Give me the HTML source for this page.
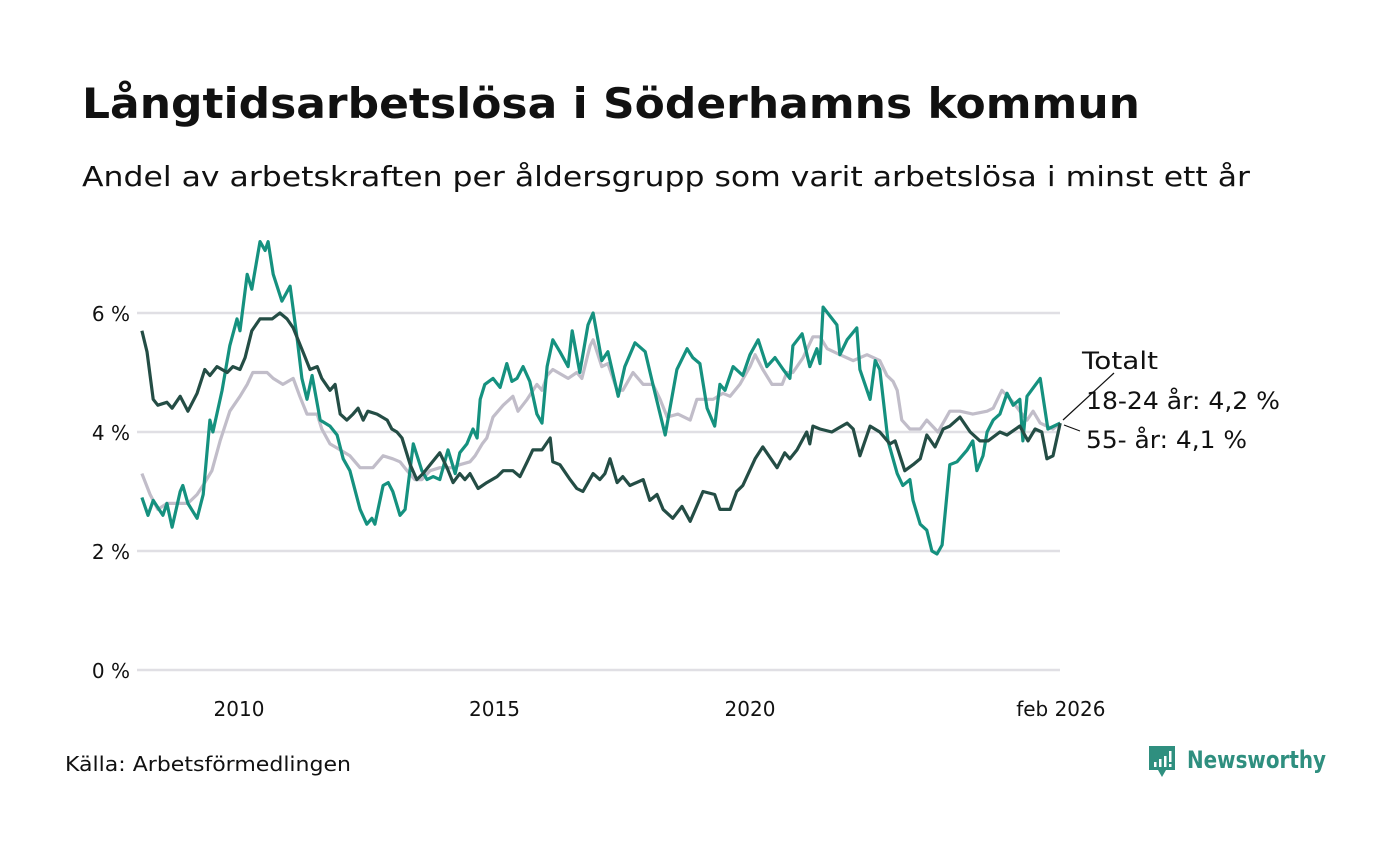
<!DOCTYPE html>
<html><head><meta charset="utf-8">
<style>
body{margin:0;background:#fff;width:1400px;height:840px;overflow:hidden;font-family:"DejaVu Sans","Liberation Sans",sans-serif;}
</style></head>
<body>
<svg id="chart" width="1400" height="840" viewBox="0 0 1400 840" xmlns="http://www.w3.org/2000/svg" font-family="DejaVu Sans, Liberation Sans, sans-serif">
<text x="82" y="118" font-size="42" font-weight="bold" fill="#111" textLength="1058" lengthAdjust="spacingAndGlyphs">Långtidsarbetslösa i Söderhamns kommun</text>
<text x="82" y="186" font-size="28" fill="#111" textLength="1168" lengthAdjust="spacingAndGlyphs">Andel av arbetskraften per åldersgrupp som varit arbetslösa i minst ett år</text>
<g id="grid"></g>
<g id="series"></g>
<g font-size="24" fill="#111">
<line x1="1063" y1="420" x2="1114" y2="373" stroke="#111" stroke-width="1.2"/>
<line x1="1064" y1="425" x2="1080" y2="431" stroke="#111" stroke-width="1.2"/>
<text x="1082" y="369" textLength="76" lengthAdjust="spacingAndGlyphs">Totalt</text>
<text x="1086" y="409" textLength="194" lengthAdjust="spacingAndGlyphs">18-24 år: 4,2 %</text>
<text x="1086" y="448" textLength="161" lengthAdjust="spacingAndGlyphs">55- år: 4,1 %</text>
</g>
<text x="65" y="771" font-size="20" fill="#111" textLength="286" lengthAdjust="spacingAndGlyphs">Källa: Arbetsförmedlingen</text>
<g>
<path d="M1149 746 h26 v24 h-9 l-4 7 l-4 -7 h-9 z" fill="#2f8f7f"/>
<rect x="1154" y="762" width="2.5" height="5" fill="#fff"/>
<rect x="1159" y="759" width="2.5" height="8" fill="#fff"/>
<rect x="1164" y="756" width="2.5" height="11" fill="#fff"/>
<rect x="1169" y="751" width="2.5" height="11" fill="#fff"/>
<rect x="1169" y="764" width="2.5" height="3" fill="#fff"/>
<text x="1187" y="768" font-size="24" font-weight="bold" fill="#2f8f7f" textLength="139" lengthAdjust="spacingAndGlyphs">Newsworthy</text>
</g>
</svg>
<script>
const yTicks=[0,2,4,6];
const yTickLabels=["0 %","2 %","4 %","6 %"];
const xTicks=[2010,2015,2020,2026.083];
const xTickLabels=["2010","2015","2020","feb 2026"];

const datesYouth=[2008.10,2008.22,2008.32,2008.51,2008.59,2008.69,2008.85,2008.90,2009.00,2009.18,2009.30,2009.43,2009.49,2009.67,2009.82,2009.96,2010.02,2010.16,2010.25,2010.41,2010.51,2010.57,2010.67,2010.84,2011.00,2011.14,2011.23,2011.33,2011.43,2011.59,2011.78,2011.92,2012.04,2012.17,2012.37,2012.50,2012.60,2012.66,2012.82,2012.92,2013.01,2013.15,2013.25,2013.41,2013.58,2013.68,2013.80,2013.93,2014.09,2014.23,2014.32,2014.46,2014.58,2014.66,2014.72,2014.81,2014.97,2015.11,2015.24,2015.34,2015.44,2015.56,2015.69,2015.83,2015.93,2016.03,2016.14,2016.28,2016.44,2016.52,2016.67,2016.83,2016.93,2017.10,2017.22,2017.42,2017.55,2017.75,2017.95,2018.10,2018.34,2018.57,2018.77,2018.88,2019.02,2019.16,2019.31,2019.41,2019.51,2019.67,2019.86,2020.00,2020.16,2020.33,2020.49,2020.65,2020.78,2020.84,2021.02,2021.17,2021.31,2021.37,2021.43,2021.70,2021.76,2021.90,2022.09,2022.15,2022.35,2022.45,2022.54,2022.70,2022.88,2022.99,2023.13,2023.19,2023.33,2023.46,2023.56,2023.66,2023.76,2023.91,2024.05,2024.25,2024.36,2024.44,2024.56,2024.64,2024.76,2024.89,2025.03,2025.15,2025.28,2025.34,2025.42,2025.68,2025.83,2026.07];
const valuesYouth=[2.9,2.6,2.85,2.6,2.8,2.4,3.0,3.1,2.8,2.55,2.95,4.2,4.0,4.7,5.45,5.9,5.7,6.65,6.4,7.2,7.05,7.2,6.65,6.2,6.45,5.55,4.9,4.55,4.95,4.2,4.1,3.95,3.55,3.35,2.7,2.45,2.55,2.45,3.1,3.15,3.0,2.6,2.7,3.8,3.35,3.2,3.25,3.2,3.7,3.3,3.65,3.8,4.05,3.9,4.55,4.8,4.9,4.75,5.15,4.85,4.9,5.1,4.85,4.3,4.15,5.1,5.55,5.35,5.1,5.7,5.0,5.8,6.0,5.2,5.35,4.6,5.1,5.5,5.35,4.8,3.95,5.05,5.4,5.25,5.15,4.4,4.1,4.8,4.7,5.1,4.95,5.3,5.55,5.1,5.25,5.05,4.9,5.45,5.65,5.1,5.4,5.15,6.1,5.8,5.3,5.55,5.75,5.05,4.55,5.2,5.05,3.85,3.3,3.1,3.2,2.85,2.45,2.35,2.0,1.95,2.1,3.45,3.5,3.7,3.85,3.35,3.6,4.0,4.2,4.3,4.65,4.45,4.55,3.85,4.6,4.9,4.05,4.15];

const datesTotal=[2008.10,2008.26,2008.41,2008.59,2008.79,2009.00,2009.18,2009.33,2009.47,2009.63,2009.82,2010.02,2010.16,2010.27,2010.55,2010.67,2010.86,2011.06,2011.19,2011.33,2011.53,2011.62,2011.78,2011.98,2012.17,2012.37,2012.62,2012.82,2013.01,2013.15,2013.29,2013.44,2013.58,2013.74,2013.93,2014.19,2014.32,2014.52,2014.62,2014.76,2014.85,2014.97,2015.17,2015.36,2015.46,2015.64,2015.83,2015.93,2016.03,2016.14,2016.44,2016.61,2016.71,2016.87,2016.93,2017.10,2017.22,2017.40,2017.51,2017.71,2017.91,2018.10,2018.24,2018.38,2018.59,2018.83,2018.96,2019.28,2019.47,2019.61,2019.80,2020.00,2020.10,2020.25,2020.43,2020.63,2020.72,2020.84,2021.04,2021.23,2021.37,2021.51,2021.76,2022.02,2022.29,2022.54,2022.68,2022.80,2022.88,2022.97,2023.13,2023.33,2023.46,2023.68,2023.91,2024.11,2024.36,2024.64,2024.76,2024.93,2025.15,2025.28,2025.42,2025.54,2025.68,2025.93,2026.07];
const valuesTotal=[3.3,2.95,2.7,2.8,2.8,2.8,2.95,3.15,3.35,3.85,4.35,4.6,4.8,5.0,5.0,4.9,4.8,4.9,4.6,4.3,4.3,4.05,3.8,3.7,3.6,3.4,3.4,3.6,3.55,3.5,3.35,3.2,3.2,3.35,3.4,3.4,3.45,3.5,3.6,3.8,3.9,4.25,4.45,4.6,4.35,4.55,4.8,4.7,4.95,5.05,4.9,5.0,4.9,5.45,5.55,5.1,5.15,4.7,4.7,5.0,4.8,4.8,4.55,4.25,4.3,4.2,4.55,4.55,4.65,4.6,4.8,5.1,5.3,5.05,4.8,4.8,5.0,5.0,5.25,5.6,5.6,5.4,5.3,5.2,5.3,5.2,4.95,4.85,4.7,4.2,4.05,4.05,4.2,4.0,4.35,4.35,4.3,4.35,4.4,4.7,4.5,4.35,4.2,4.35,4.15,4.05,4.15];

const datesOld=[2008.10,2008.20,2008.32,2008.41,2008.59,2008.69,2008.85,2009.00,2009.18,2009.33,2009.43,2009.57,2009.77,2009.88,2010.02,2010.12,2010.25,2010.41,2010.65,2010.80,2010.94,2011.06,2011.25,2011.39,2011.53,2011.62,2011.78,2011.88,2011.98,2012.11,2012.23,2012.33,2012.43,2012.52,2012.70,2012.90,2012.99,2013.09,2013.19,2013.35,2013.48,2013.60,2013.74,2013.93,2014.07,2014.19,2014.32,2014.42,2014.52,2014.68,2014.85,2015.05,2015.17,2015.36,2015.50,2015.64,2015.75,2015.93,2016.09,2016.14,2016.28,2016.48,2016.61,2016.73,2016.93,2017.06,2017.16,2017.26,2017.40,2017.51,2017.65,2017.91,2018.04,2018.18,2018.30,2018.49,2018.67,2018.83,2019.08,2019.31,2019.41,2019.61,2019.74,2019.86,2020.10,2020.25,2020.45,2020.53,2020.68,2020.78,2020.92,2021.11,2021.17,2021.23,2021.37,2021.60,2021.70,2021.90,2022.02,2022.15,2022.35,2022.54,2022.74,2022.84,2023.03,2023.19,2023.33,2023.46,2023.62,2023.78,2023.91,2024.11,2024.31,2024.50,2024.66,2024.89,2025.03,2025.28,2025.44,2025.58,2025.71,2025.81,2025.93,2026.07];
const valuesOld=[5.7,5.35,4.55,4.45,4.5,4.4,4.6,4.35,4.65,5.05,4.95,5.1,5.0,5.1,5.05,5.25,5.7,5.9,5.9,6.0,5.9,5.75,5.35,5.05,5.1,4.9,4.7,4.8,4.3,4.2,4.3,4.4,4.2,4.35,4.3,4.2,4.05,4.0,3.9,3.45,3.2,3.3,3.45,3.65,3.4,3.15,3.3,3.2,3.3,3.05,3.15,3.25,3.35,3.35,3.25,3.5,3.7,3.7,3.9,3.5,3.45,3.2,3.05,3.0,3.3,3.2,3.3,3.55,3.15,3.25,3.1,3.2,2.85,2.95,2.7,2.55,2.75,2.5,3.0,2.95,2.7,2.7,3.0,3.1,3.55,3.75,3.5,3.4,3.65,3.55,3.7,4.0,3.8,4.1,4.05,4.0,4.05,4.15,4.05,3.6,4.1,4.0,3.8,3.85,3.35,3.45,3.55,3.95,3.75,4.05,4.1,4.25,4.0,3.85,3.85,4.0,3.95,4.1,3.85,4.05,4.0,3.55,3.6,4.15];

const NS="http://www.w3.org/2000/svg";
const X0=136.8, PXY=51.1, Y0=670, PXV=59.5;
function xScale(t){return X0+(t-2008)*PXY;}
function yScale(v){return Y0-v*PXV;}

const grid=document.getElementById('grid');
yTicks.forEach((v,i)=>{
  const ln=document.createElementNS(NS,'line');
  
  
  ln.setAttribute('x1',137);ln.setAttribute('x2',1060);
  ln.setAttribute('y1',yScale(v));ln.setAttribute('y2',yScale(v));
  ln.setAttribute('stroke','#e0dfe4');ln.setAttribute('stroke-width','2.5');
  grid.appendChild(ln);
  const tx=document.createElementNS(NS,'text');
  
  
  tx.setAttribute('x',130);tx.setAttribute('y',yScale(v)+8);
  tx.setAttribute('text-anchor','end');tx.setAttribute('font-size','20');tx.setAttribute('fill','#111');
  tx.textContent=yTickLabels[i];
  grid.appendChild(tx);
});
xTicks.forEach((t,i)=>{
  const tx=document.createElementNS(NS,'text');
  
  
  tx.setAttribute('x',xScale(t));tx.setAttribute('y',716);
  tx.setAttribute('text-anchor','middle');tx.setAttribute('font-size','20');tx.setAttribute('fill','#111');
  tx.textContent=xTickLabels[i];
  grid.appendChild(tx);
});

const seriesG=document.getElementById('series');
function drawLine(dates,vals,color,name){
  const p=document.createElementNS(NS,'polyline');
  
  
  p.setAttribute('points',dates.map((d,i)=>xScale(d).toFixed(1)+','+yScale(vals[i]).toFixed(1)).join(' '));
  p.setAttribute('fill','none');p.setAttribute('stroke',color);p.setAttribute('stroke-width','3.2');
  p.setAttribute('stroke-linejoin','round');
  seriesG.appendChild(p);
}
drawLine(datesTotal,valuesTotal,'#c1bdc9','line-totalt');
drawLine(datesYouth,valuesYouth,'#15917f','line-18-24');
drawLine(datesOld,valuesOld,'#244d45','line-55');
</script>
</body></html>
